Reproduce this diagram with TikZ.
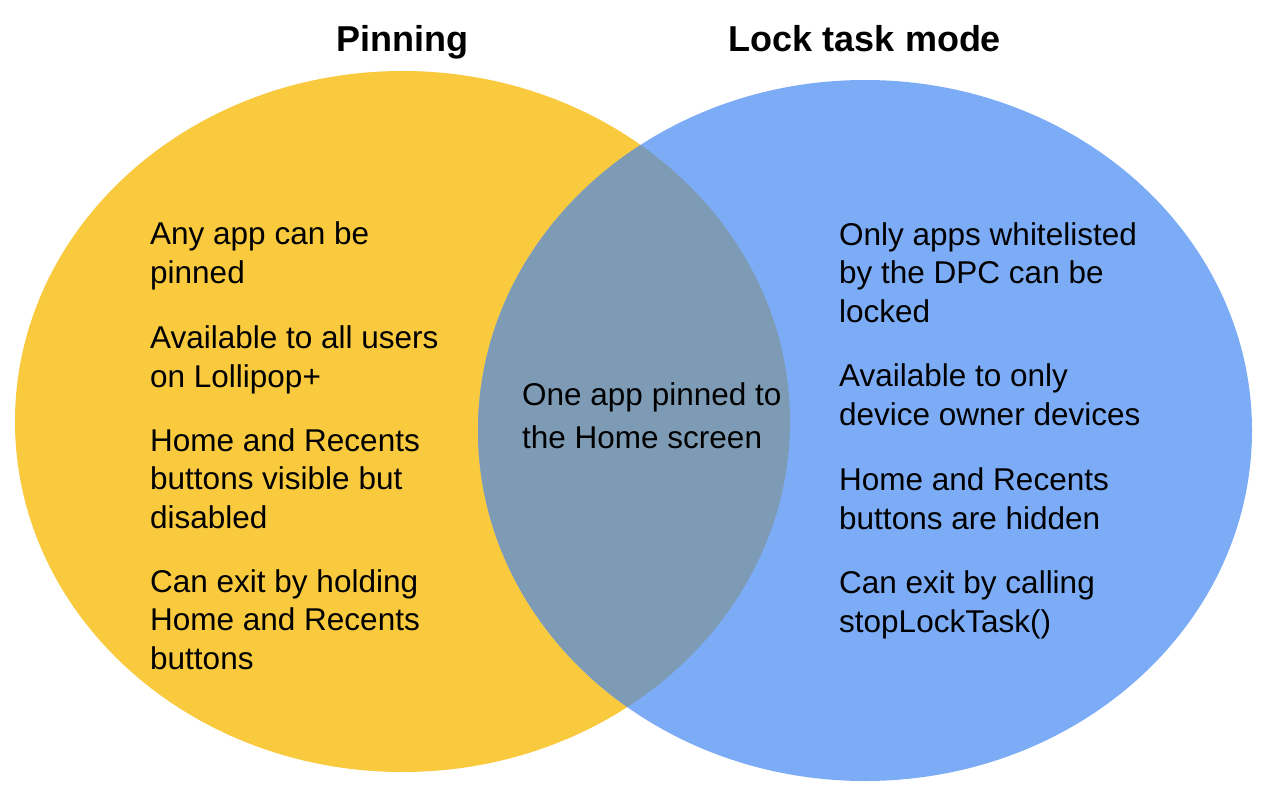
\documentclass[tikz,border=0pt]{standalone}
\usepackage{fontspec}
\setmainfont{Liberation Sans}
\definecolor{pinyellow}{HTML}{F9C93E}
\definecolor{lockblue}{HTML}{7DACF6}
\definecolor{overlapgrey}{HTML}{7E9BB5}
\begin{document}
\begin{tikzpicture}[x=1pt,y=-1pt,
  title/.style={font=\fontsize{36}{40}\selectfont\bfseries, anchor=base, inner sep=0pt},
  body/.style={font=\fontsize{31.5}{38.5}\selectfont, align=left, anchor=base west, inner sep=0pt},
  midtext/.style={font=\fontsize{31.5}{43}\selectfont, align=left, anchor=base west, inner sep=0pt}
]
\useasboundingbox (0,0) rectangle (1280,800);
\fill[white] (0,0) rectangle (1280,800);
% circles
\fill[pinyellow] (402.5,421.5) ellipse [x radius=387.5pt, y radius=350.5pt];
\fill[lockblue] (865,430.5) ellipse [x radius=387pt, y radius=350.5pt];
\begin{scope}
  \clip (402.5,421.5) ellipse [x radius=387.5pt, y radius=350.5pt];
  \fill[overlapgrey] (865,430.5) ellipse [x radius=387pt, y radius=350.5pt];
\end{scope}
% titles
\node[title] (tpin) at (402,52) {Pinning};
\node[title] (tlock) at (865,52) {Lock task mode};
% left (anchor = baseline of last line)
\node[body] (l1) at (150,283) {Any app can be\\pinned};
\node[body] (l2) at (150,387) {Available to all users\\on Lollipop+};
\node[body] (l3) at (150,528) {Home and Recents\\buttons visible but\\disabled};
\node[body] (l4) at (150,669) {Can exit by holding\\Home and Recents\\buttons};
% middle
\node[midtext] (m1) at (522,448) {One app pinned to\\the Home screen};
% right
\node[body] (r1) at (839,322) {Only apps whitelisted\\by the DPC can be\\locked};
\node[body] (r2) at (839,425) {Available to only\\device owner devices};
\node[body] (r3) at (839,529) {Home and Recents\\buttons are hidden};
\node[body] (r4) at (839,632) {Can exit by calling\\stopLockTask()};
\end{tikzpicture}
\end{document}
